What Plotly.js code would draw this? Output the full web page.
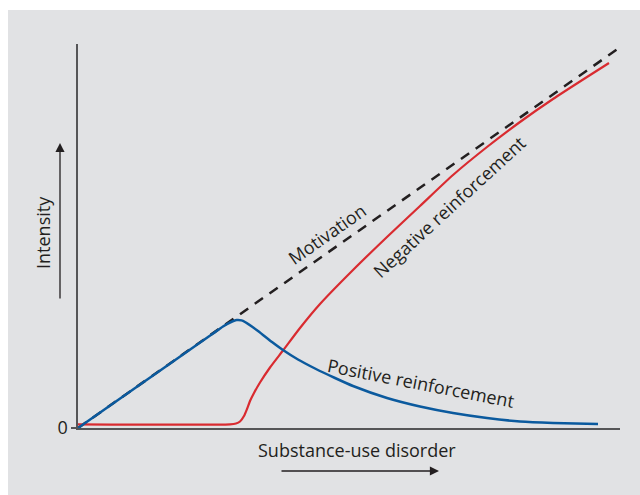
<!DOCTYPE html>
<html>
<head>
<meta charset="utf-8">
<script src="https://cdn.plot.ly/plotly-3.0.1.min.js"></script>
<style>html,body{margin:0;padding:0;background:#fff;}#chart{width:640px;height:495px;}</style>
</head>
<body>
<div id="chart"></div>
<script>
// Data (arbitrary units; x = stage of substance-use disorder, y = intensity)
const motivationX = [0, 541];
const motivationY = [0, 380];

const positiveX = [0, 60, 120, 135, 145, 152, 158.7, 163.5, 167, 180, 194, 205, 220, 237, 257, 275, 309, 342, 375, 409, 442, 475, 520];
const positiveY = [0, 42, 84, 94.5, 101.5, 105.5, 108, 107.6, 106, 97, 86, 78, 68.5, 59.5, 50, 42, 30, 21.5, 15, 10, 6.5, 5, 4];

const negativeX = [0, 152, 158, 162, 166, 169, 172, 176, 182, 192, 205, 222, 242, 275, 309, 342, 375, 409, 442, 475, 509, 531];
const negativeY = [3.7, 3.7, 4.5, 6.5, 12, 19, 27, 35, 45.5, 60.5, 77.5, 100, 124, 158, 191, 222, 253, 281, 306, 329, 351, 365];

const yTickVals = [0];
const yTickText = ['0'];

const labelText = ['Motivation', 'Negative reinforcement', 'Positive reinforcement'];
const labelX = [249, 371, 343];
const labelY = [194, 221, 45];
const labelAngle = [-35, -42.5, 11];

const xAxisTitle = 'Substance-use disorder';
const yAxisTitle = 'Intensity';

const textColor = '#231f20';
const fontFam = '"Open Sans", "Noto Sans", sans-serif';
const fs = 18;

const traces = [
  {x: motivationX, y: motivationY, mode: 'lines', line: {color: '#231f20', width: 2.5, dash: '10px,8px'}, cliponaxis: false, hoverinfo: 'skip'},
  {x: negativeX, y: negativeY, mode: 'lines', line: {color: '#d92b30', width: 2.2, shape: 'spline', smoothing: 0.6}, cliponaxis: false, hoverinfo: 'skip'},
  {x: positiveX, y: positiveY, mode: 'lines', line: {color: '#0b5a9e', width: 2.5, shape: 'spline', smoothing: 0.6}, cliponaxis: false, hoverinfo: 'skip'}
];

const W = 542, H = 384; // plot area pixels
function px(p) { return (p - 78) / W; }
function py(p) { return (428 - p) / H; }

const annotations = labelText.map((t, i) => ({
  x: labelX[i], y: labelY[i], xref: 'x', yref: 'y', text: t, showarrow: false,
  xanchor: 'center', yanchor: 'middle',
  textangle: labelAngle[i], font: {family: fontFam, size: fs, color: textColor}
}));
annotations.push({x: px(43), y: py(233), xref: 'paper', yref: 'paper', text: yAxisTitle, showarrow: false,
  xanchor: 'center', yanchor: 'middle',
  textangle: -90, font: {family: fontFam, size: fs, color: textColor}});
annotations.push({x: px(357), y: py(450), xref: 'paper', yref: 'paper', text: xAxisTitle, showarrow: false,
  xanchor: 'center', yanchor: 'middle',
  font: {family: fontFam, size: fs, color: textColor}});
// arrows
annotations.push({x: px(60), y: py(143), xref: 'paper', yref: 'paper', text: '', showarrow: true,
  ax: 0, ay: 157, arrowhead: 2, arrowsize: 1.4, arrowwidth: 1.3, arrowcolor: textColor, standoff: 0});
annotations.push({x: px(439), y: py(471), xref: 'paper', yref: 'paper', text: '', showarrow: true,
  ax: -159, ay: 0, arrowhead: 2, arrowsize: 1.4, arrowwidth: 1.3, arrowcolor: textColor, standoff: 0});

const layout = {
  width: 640, height: 495,
  margin: {l: 78, r: 20, t: 44, b: 67},
  paper_bgcolor: '#ffffff',
  plot_bgcolor: 'rgba(0,0,0,0)',
  showlegend: false,
  xaxis: {range: [0, W], showline: true, linecolor: '#555557', linewidth: 1.6, showgrid: false, zeroline: false,
    showticklabels: false, ticks: '', fixedrange: true},
  yaxis: {range: [0, H], showline: true, linecolor: '#555557', linewidth: 1.6, showgrid: false, zeroline: false,
    tickvals: yTickVals, ticktext: yTickText, ticks: 'outside', ticklen: 5, tickcolor: '#555557', tickwidth: 1.6,
    tickfont: {family: fontFam, size: fs, color: textColor}, fixedrange: true},
  shapes: [{type: 'rect', xref: 'paper', yref: 'paper', x0: px(8), x1: px(640), y0: py(495), y1: py(10),
    fillcolor: '#e1e2e4', line: {width: 0}, layer: 'below'}],
  annotations: annotations
};

Plotly.newPlot('chart', traces, layout, {displayModeBar: false, staticPlot: true});
</script>
</body>
</html>
